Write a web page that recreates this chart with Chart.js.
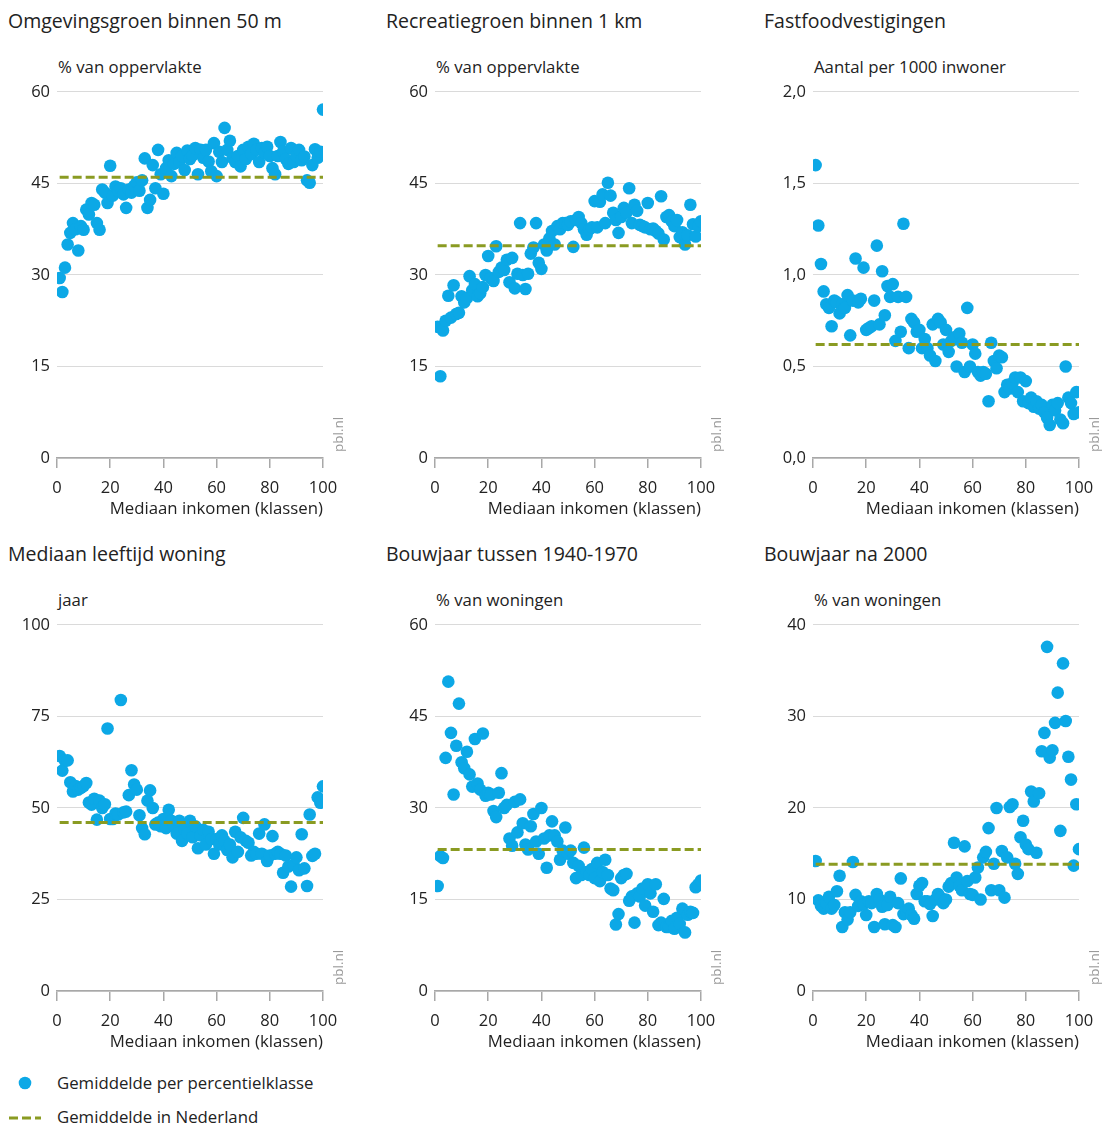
<!DOCTYPE html>
<html>
<head>
<meta charset="utf-8">
<title>Inkomen en leefomgeving</title>
<script src="https://cdn.jsdelivr.net/npm/chart.js@4.4.1/dist/chart.umd.min.js"></script>
<style>
  html, body { margin: 0; padding: 0; background: #fff; }
  body { width: 1104px; height: 1126px; position: relative; overflow: hidden;
         font-family: "Open Sans", "Liberation Sans", sans-serif; color: #222; }
  .title { position: absolute; font-size: 19.5px; line-height: 24px; white-space: nowrap; }
  .unit  { position: absolute; font-size: 16.8px; line-height: 20px; white-space: nowrap; color: #222; }
  canvas.chart { position: absolute; }
  .legend-text { position: absolute; left: 57px; font-size: 16.8px; line-height: 20px; white-space: nowrap; }
  #legendSymbols { position: absolute; left: 0; top: 1068px; }
</style>
</head>
<body>
<div id="root"></div>
<canvas id="legendSymbols" width="50" height="64"></canvas>
<div class="legend-text" style="top:1073px">Gemiddelde per percentielklasse</div>
<div class="legend-text" style="top:1107px">Gemiddelde in Nederland</div>

<script>
// Percentile classes of median household income (1 = lowest, 100 = highest)
const klassen = Array.from({ length: 100 }, (_, i) => i + 1);

// Omgevingsgroen binnen 50 m (% van oppervlakte)
const omgevingsgroen = [
  29.5, 27.2, 31.2, 35.0, 36.9, 38.5, 37.5, 34.0, 38.0, 37.4,
  40.7, 39.9, 41.8, 41.5, 38.5, 37.4, 44.0, 43.5, 41.8, 47.9,
  43.0, 44.5, 43.8, 44.2, 43.2, 41.0, 44.0, 43.5, 44.6, 45.2,
  43.8, 45.5, 49.1, 41.0, 42.3, 48.0, 44.2, 50.5, 46.5, 43.3,
  47.5, 48.8, 46.2, 48.2, 50.0, 48.5, 49.5, 47.2, 50.4, 49.0,
  49.6, 50.8, 46.5, 50.5, 49.2, 50.5, 48.6, 47.0, 51.6, 46.2,
  50.2, 48.5, 54.1, 50.5, 52.0, 49.2, 48.5, 49.5, 47.8, 50.5,
  49.0, 51.0, 49.8, 51.5, 50.5, 48.5, 50.8, 50.0, 51.0, 49.5,
  47.5, 46.5, 49.5, 51.8, 50.2, 49.0, 48.2, 50.8, 48.5, 49.5,
  50.5, 48.8, 49.4, 45.5, 45.1, 48.0, 50.6, 49.2, 50.2, 57.1
];

// Recreatiegroen binnen 1 km (% van oppervlakte)
const recreatiegroen = [
  21.5, 13.4, 20.9, 22.5, 26.6, 23.0, 28.3, 23.6, 23.8, 26.5,
  25.5, 26.2, 29.8, 27.5, 28.5, 26.5, 27.0, 28.0, 30.0, 33.1,
  29.5, 29.0, 34.7, 30.5, 31.2, 30.8, 32.5, 28.8, 32.8, 27.8,
  30.2, 38.5, 30.0, 27.7, 30.2, 33.5, 34.5, 38.5, 32.0, 31.0,
  35.0, 34.0, 36.0, 37.2, 35.0, 38.0, 37.5, 38.5, 38.5, 38.2,
  38.8, 34.6, 39.0, 39.5, 38.5, 37.5, 36.6, 37.5, 37.8, 42.1,
  37.8, 42.0, 43.2, 38.5, 45.1, 43.0, 40.2, 39.0, 36.9, 39.5,
  41.0, 40.2, 44.2, 38.5, 41.5, 40.5, 38.2, 38.0, 37.8, 41.8,
  37.5, 37.6, 37.2, 36.8, 42.9, 35.8, 39.5, 39.8, 38.8, 38.0,
  39.0, 36.2, 37.0, 35.0, 36.5, 41.5, 38.3, 36.3, 38.0, 38.8
];

// Fastfoodvestigingen (aantal per 1000 inwoner)
const fastfood = [
  1.60, 1.27, 1.06, 0.91, 0.84, 0.82, 0.72, 0.86, 0.85, 0.79,
  0.84, 0.82, 0.89, 0.67, 0.86, 1.09, 0.85, 0.87, 1.04, 0.70,
  0.71, 0.72, 0.86, 1.16, 0.73, 1.02, 0.78, 0.94, 0.88, 0.95,
  0.64, 0.88, 0.69, 1.28, 0.88, 0.60, 0.76, 0.74, 0.69, 0.70,
  0.60, 0.65, 0.60, 0.56, 0.73, 0.53, 0.76, 0.74, 0.62, 0.70,
  0.58, 0.64, 0.66, 0.50, 0.68, 0.63, 0.47, 0.82, 0.50, 0.62,
  0.57, 0.47, 0.45, 0.47, 0.46, 0.31, 0.63, 0.53, 0.49, 0.56,
  0.55, 0.36, 0.40, 0.38, 0.41, 0.44, 0.36, 0.44, 0.31, 0.42,
  0.30, 0.33, 0.28, 0.31, 0.27, 0.29, 0.25, 0.22, 0.18, 0.29,
  0.26, 0.30, 0.21, 0.19, 0.50, 0.33, 0.30, 0.24, 0.36, 0.25
];

// Mediaan leeftijd woning (jaar)
const leeftijdWoning = [
  64.2, 60.2, 62.9, 63.0, 57.0, 54.5, 56.0, 55.0, 55.5, 56.0,
  56.8, 51.5, 50.9, 52.5, 46.8, 52.0, 50.0, 51.0, 71.7, 47.0,
  47.0, 48.5, 48.2, 79.5, 48.8, 49.0, 53.5, 60.3, 56.4, 55.0,
  48.0, 44.5, 42.8, 52.0, 54.8, 50.0, 45.5, 46.0, 45.0, 47.0,
  44.5, 49.5, 46.5, 45.0, 43.0, 46.5, 41.0, 44.0, 43.0, 46.5,
  42.0, 45.0, 39.0, 42.5, 44.0, 40.0, 43.5, 41.5, 37.5, 41.5,
  40.0, 42.5, 41.0, 38.5, 40.0, 36.5, 43.5, 38.0, 42.0, 47.3,
  41.0, 40.5, 37.0, 38.0, 37.5, 43.0, 37.5, 45.5, 35.5, 37.0,
  42.3, 37.5, 38.0, 37.5, 32.3, 37.0, 34.0, 28.5, 34.5, 36.5,
  33.0, 42.8, 33.5, 28.7, 48.2, 36.9, 37.5, 52.9, 51.4, 55.9
];

// Bouwjaar tussen 1940-1970 (% van woningen)
const bouwjaar1940_1970 = [
  17.2, 22.1, 21.8, 38.2, 50.7, 42.3, 32.2, 40.2, 47.1, 37.5,
  36.5, 39.2, 35.5, 33.5, 41.3, 34.0, 33.0, 42.2, 32.0, 32.5,
  32.2, 29.5, 28.5, 32.5, 35.7, 30.0, 30.5, 25.0, 23.8, 31.0,
  26.0, 31.4, 27.5, 24.0, 23.2, 27.0, 29.0, 24.5, 22.5, 30.0,
  25.0, 20.2, 25.5, 27.8, 25.5, 24.5, 21.5, 23.0, 26.8, 22.5,
  23.0, 21.0, 18.5, 20.5, 19.0, 23.5, 19.5, 19.0, 20.0, 18.5,
  21.0, 18.0, 19.5, 21.5, 19.0, 16.8, 16.5, 10.9, 12.6, 18.5,
  19.0, 19.2, 14.8, 15.5, 11.2, 16.0, 15.5, 16.8, 14.0, 17.5,
  16.0, 13.0, 17.5, 10.8, 11.2, 15.1, 10.5, 10.5, 11.5, 10.2,
  12.0, 11.0, 13.5,  9.6, 12.5, 13.0, 12.8, 17.0, 17.5, 18.1
];

// Bouwjaar na 2000 (% van woningen)
const bouwjaarNa2000 = [
  14.2,  9.9,  9.3,  9.0,  9.6, 10.3,  9.0,  9.4, 10.9, 12.6,
   7.0,  8.6,  7.8,  8.6, 14.1, 10.5,  9.3,  9.8,  9.5,  8.3,
   9.8,  9.6,  7.0, 10.6, 10.0,  9.2,  7.3,  9.4, 10.3,  7.2,
   7.0,  9.6, 12.3,  8.4,  8.8,  9.0,  8.3,  7.9, 10.6, 11.5,
  11.8,  9.8,  9.8,  9.5,  8.2, 10.0, 10.6, 10.2,  9.6, 10.0,
  11.4, 11.8, 16.2, 12.4, 11.5, 11.0, 15.8, 12.0, 10.6, 10.5,
  12.4, 13.5, 10.0, 14.6, 15.2, 17.8, 11.0, 13.9, 20.0, 11.0,
  15.3, 10.2, 14.6, 20.1, 20.4, 13.9, 12.8, 16.8, 18.6, 16.0,
  15.5, 21.8, 20.7, 15.1, 21.6, 26.2, 28.2, 37.6, 25.5, 26.3,
  29.3, 32.6, 17.5, 35.8, 29.5, 25.6, 23.1, 13.7, 20.4, 15.5
];

// National averages, one per panel
const gemiddeldeNL = [46.0, 34.8, 0.62, 46.0, 23.2, 13.85];

// Panel titles, y-axis units and y-axis ranges
const titels = ['Omgevingsgroen binnen 50 m', 'Recreatiegroen binnen 1 km', 'Fastfoodvestigingen',
                'Mediaan leeftijd woning', 'Bouwjaar tussen 1940-1970', 'Bouwjaar na 2000'];
const eenheden = ['% van oppervlakte', '% van oppervlakte', 'Aantal per 1000 inwoner',
                  'jaar', '% van woningen', '% van woningen'];
const yMaxima = [60, 60, 2, 100, 60, 40];
const yStappen = [15, 15, 0.5, 25, 15, 10];
const decimalen = [0, 0, 1, 0, 0, 0];
const xTitel = 'Mediaan inkomen (klassen)';
const reeksen = [omgevingsgroen, recreatiegroen, fastfood, leeftijdWoning, bouwjaar1940_1970, bouwjaarNa2000];

const BLAUW = '#0ca8e6';
const OLIJF = '#8a9b22';
const TEKST = '#222';
const FONT = '"Open Sans", "Liberation Sans", sans-serif';

// Layout of the 3x2 grid (plot-area left edges and top edges)
const plotLeft = [57, 435, 813];
const plotTop = [90, 623];
const PLOT_W = 266, PLOT_H = 368;
const Y_AXIS_W = 57, X_AXIS_H = 62;
const PAD = { top: 15, right: 25, bottom: 10, left: 0 };

const creditPlugin = {
  id: 'credit',
  afterDraw(chart) {
    const { ctx, chartArea } = chart;
    ctx.save();
    ctx.translate(chartArea.right + 16, chartArea.bottom - 6);
    ctx.rotate(-Math.PI / 2);
    ctx.font = '13.5px ' + FONT;
    ctx.fillStyle = '#9a9a9a';
    ctx.textAlign = 'left';
    ctx.textBaseline = 'middle';
    ctx.fillText('pbl.nl', 0, 0);
    ctx.restore();
  }
};

const root = document.getElementById('root');

reeksen.forEach((reeks, p) => {
  const col = p % 3, row = Math.floor(p / 3);
  const left = plotLeft[col], top = plotTop[row];

  const t = document.createElement('div');
  t.className = 'title';
  t.textContent = titels[p];
  t.style.left = (left - 49) + 'px';
  t.style.top = (top - 81) + 'px';
  root.appendChild(t);

  const u = document.createElement('div');
  u.className = 'unit';
  u.textContent = eenheden[p];
  u.style.left = (left + 1) + 'px';
  u.style.top = (top - 33) + 'px';
  root.appendChild(u);

  const cv = document.createElement('canvas');
  cv.className = 'chart';
  const cw = Y_AXIS_W + PLOT_W + PAD.right;
  const ch = PAD.top + PLOT_H + X_AXIS_H + PAD.bottom;
  cv.width = cw; cv.height = ch;
  cv.style.left = (left - Y_AXIS_W) + 'px';
  cv.style.top = (top - PAD.top) + 'px';
  root.appendChild(cv);

  const punten = klassen.map((k, i) => ({ x: k, y: reeks[i] }));
  const gem = gemiddeldeNL[p];

  new Chart(cv.getContext('2d'), {
    type: 'scatter',
    data: {
      datasets: [
        {
          type: 'line',
          label: 'Gemiddelde in Nederland',
          data: [{ x: 1, y: gem }, { x: 100, y: gem }],
          borderColor: OLIJF,
          borderWidth: 3,
          borderDash: [9, 4],
          pointRadius: 0,
          fill: false,
          order: 0
        },
        {
          label: 'Gemiddelde per percentielklasse',
          data: punten,
          backgroundColor: BLAUW,
          borderColor: BLAUW,
          borderWidth: 0,
          pointRadius: 6.3,
          pointHoverRadius: 6.3,
          order: 1
        }
      ]
    },
    options: {
      responsive: false,
      animation: false,
      events: [],
      layout: { autoPadding: false, padding: PAD },
      plugins: { legend: { display: false }, tooltip: { enabled: false } },
      scales: {
        x: {
          type: 'linear',
          min: 0, max: 100,
          afterFit: s => { s.height = X_AXIS_H; },
          ticks: { stepSize: 20, padding: 10, color: TEKST, font: { family: FONT, size: 16.5 } },
          grid: { drawOnChartArea: false, drawTicks: true, tickLength: 10, color: '#a8a8a8', lineWidth: 1.5 },
          border: { display: true, color: '#a8a8a8', width: 1.5 },
          title: { display: true, text: xTitel, align: 'end', color: TEKST,
                   font: { family: FONT, size: 16.8 }, padding: { top: 0, bottom: 1 } }
        },
        y: {
          min: 0, max: yMaxima[p],
          afterFit: s => { s.width = Y_AXIS_W; },
          ticks: {
            stepSize: yStappen[p], padding: 7, color: TEKST, font: { family: FONT, size: 16.5 },
            callback: v => v.toFixed(decimalen[p]).replace('.', ',')
          },
          grid: { drawTicks: false, color: '#dadada', lineWidth: 1 },
          border: { display: false }
        }
      }
    },
    plugins: [creditPlugin]
  });
});

// Legend symbols
(function () {
  const ctx = document.getElementById('legendSymbols').getContext('2d');
  ctx.fillStyle = BLAUW;
  ctx.beginPath();
  ctx.arc(25, 15, 6.3, 0, Math.PI * 2);
  ctx.fill();
  ctx.strokeStyle = OLIJF;
  ctx.lineWidth = 3;
  ctx.setLineDash([9, 4]);
  ctx.beginPath();
  ctx.moveTo(9, 50);
  ctx.lineTo(41, 50);
  ctx.stroke();
})();
</script>
</body>
</html>
